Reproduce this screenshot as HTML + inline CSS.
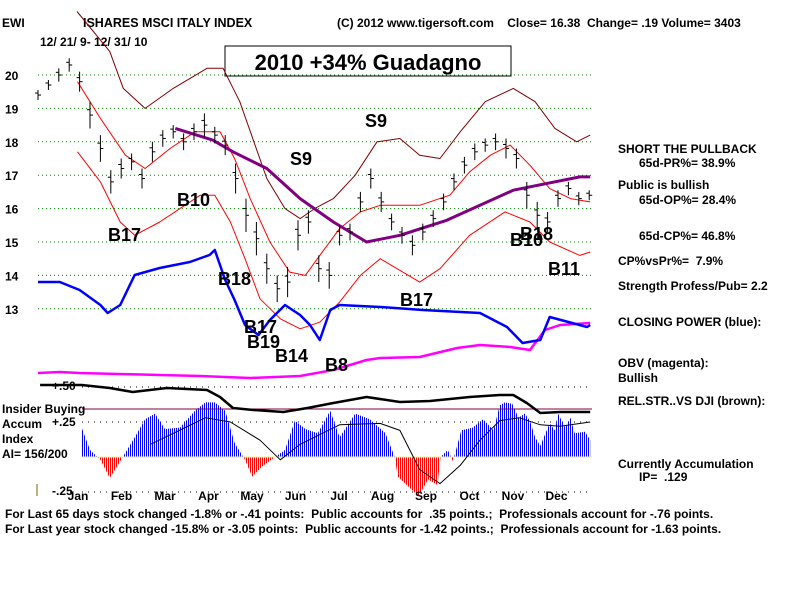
<!DOCTYPE html>
<html><head><meta charset="utf-8">
<style>
body{margin:0;background:#fff;}
svg{display:block;font-family:"Liberation Sans",sans-serif;}
text{white-space:pre;}
.t{font-size:12px;font-weight:bold;fill:#000;}
.sig{font-size:18px;font-weight:bold;fill:#000;}
</style></head><body>
<svg id="c" width="800" height="600" viewBox="0 0 800 600">
<defs>
<pattern id="blueStripe" width="2" height="4" patternUnits="userSpaceOnUse"><rect width="1" height="4" fill="#0000ff"/></pattern>
<pattern id="redStripe" width="2" height="4" patternUnits="userSpaceOnUse"><rect width="1" height="4" fill="#ff0000"/></pattern>
<clipPath id="aiPos"><rect x="0" y="0" width="800" height="457"/></clipPath>
<clipPath id="aiNeg"><rect x="0" y="457" width="800" height="143"/></clipPath>
</defs>
<text x="2" y="27" class="t">EWI</text>
<text x="83" y="27" class="t" style="font-size:12.5px">ISHARES MSCI ITALY INDEX</text>
<text x="40" y="46" class="t">12/ 21/ 9- 12/ 31/ 10</text>
<text x="337" y="27" class="t">(C) 2012 www.tigersoft.com    Close= 16.38  Change= .19 Volume= 3403</text>
<rect x="225" y="46" width="286" height="30" fill="#fff" stroke="#000" stroke-width="1"/>
<text x="368" y="70" text-anchor="middle" style="font-size:22px;font-weight:bold">2010 +34% Guadagno</text>
<g id="grid"></g><g id="plot"></g>
<g>
<text x="618" y="153" class="t">SHORT THE PULLBACK</text>
<text x="639" y="167" class="t">65d-PR%= 38.9%</text>
<text x="618" y="189" class="t">Public is bullish</text>
<text x="639" y="204" class="t">65d-OP%= 28.4%</text>
<text x="639" y="240" class="t">65d-CP%= 46.8%</text>
<text x="618" y="265" class="t">CP%vsPr%=  7.9%</text>
<text x="618" y="290" class="t">Strength Profess/Pub= 2.2</text>
<text x="618" y="326" class="t">CLOSING POWER (blue):</text>
<text x="618" y="367" class="t">OBV (magenta):</text>
<text x="618" y="382" class="t">Bullish</text>
<text x="618" y="405" class="t">REL.STR..VS DJI (brown):</text>
<text x="618" y="468" class="t">Currently Accumulation</text>
<text x="639" y="481" class="t">IP=  .129</text>
</g>
<g id="grid2"></g>
<g>
<text x="52" y="390" class="t">+.50</text>
<text x="2" y="413" class="t">Insider Buying</text>
<text x="52" y="426" class="t">+.25</text>
<text x="2" y="428" class="t">Accum</text>
<text x="2" y="443" class="t">Index</text>
<text x="2" y="458" class="t">AI= 156/200</text>
<text x="52" y="495" class="t">-.25</text>
</g>
<text x="5" y="518" class="t">For Last 65 days stock changed -1.8% or -.41 points:  Public accounts for  .35 points.;  Professionals account for -.76 points.</text>
<text x="5" y="533" class="t">For Last year stock changed -15.8% or -3.05 points:  Public accounts for -1.42 points.;  Professionals account for -1.63 points.</text>
</svg>
<script>
const months=["Jan","Feb","Mar","Apr","May","Jun","Jul","Aug","Sep","Oct","Nov","Dec"];
const priceTicks=[20,19,18,17,16,15,14,13];
const closes=[19.4,19.7,20.0,20.3,19.8,18.8,17.8,16.8,17.2,17.4,16.9,17.7,18.1,18.3,18.0,18.3,18.5,18.2,17.9,16.9,15.8,15.1,14.2,13.6,13.8,15.2,15.6,14.2,14.0,15.2,15.3,16.2,16.9,16.2,15.6,15.2,14.9,15.3,15.7,16.2,16.8,17.3,17.7,17.9,18.0,17.8,17.5,16.4,15.8,15.6,16.3,16.6,16.3,16.4];
const ranges=[0.3,0.3,0.4,0.4,0.6,0.8,0.8,0.7,0.6,0.5,0.6,0.6,0.5,0.4,0.5,0.5,0.7,0.5,0.6,0.9,1.0,1.0,0.9,0.8,0.9,0.9,0.7,0.8,0.8,0.6,0.5,0.6,0.6,0.6,0.5,0.5,0.6,0.5,0.5,0.5,0.5,0.5,0.5,0.4,0.5,0.6,0.6,0.8,0.8,0.6,0.5,0.4,0.4,0.3];

const redUpWeeks=[3.8,6,8.4,10.3,12.7,15.1,17.5,18.9,20.4,22.3,24.2,25.7,27.1,29,31,32.9,36.7,39.6,41.5,43.5,45.4,47.3,49.2,51.2,53.1];
const redUpper=[19.8,18.7,17.6,17.2,17.8,18.3,18.3,17.5,16.3,15.0,14.1,14.0,14.6,15.4,15.9,16.1,16.1,16.4,17.1,17.6,17.9,17.3,16.6,16.3,16.2];
const redLoWeeks=[3.8,6,7.9,9.3,11.7,13.65,15.6,17,18.5,19.9,21.35,23.3,25.2,27.1,29,31,32.9,36.7,38.65,41.5,44.9,47.3,49.2,52.1,53.1];
const redLower=[17.7,16.8,15.6,15.2,15.6,16.0,16.4,16.4,15.6,14.5,13.3,12.7,12.4,12.6,13.2,14.0,14.5,13.8,14.2,15.2,15.9,15.6,15.0,14.6,14.7];
const brownWeeks=[3.75,6.9,8.2,10.3,13,16.25,17.8,19.4,22,23.75,25.2,26.6,28.4,30.5,32.6,34.8,36.7,38.65,40.6,43,45.7,47.8,49.7,51.8,53.1];
const brownUpper=[21.9,20.7,19.6,19.0,19.6,20.2,20.2,19.2,16.9,16.0,15.7,16.0,16.3,17.0,18.0,18.1,17.6,17.5,18.3,19.2,19.6,19.2,18.4,18.0,18.2];
const maWeeks=[13.2,16.8,18.75,22,25.2,28.4,31.6,34.8,39.3,45.7,52.1,53.1];
const maVals=[18.4,18.05,17.7,17.2,16.3,15.6,15.0,15.2,15.65,16.55,16.95,16.95];

const cpWeeks=[0,2.1,4,6,6.7,7.9,9.3,11.7,14.6,16.5,17,18,18.9,19.9,21.2,22.3,23.75,25.2,26.15,27.1,28.1,29,32.9,37,42.5,45.1,46.6,48.3,49.2,52.8,53.1];
const cpVals=[1.8,1.8,1.0,-0.5,-1.3,-0.5,2.5,3.2,3.8,4.5,5.0,2.0,0.0,-2.5,-3.5,-2.0,-0.5,-1.5,-2.5,-4.0,-1.0,-0.5,-0.7,-1.0,-1.3,-2.7,-4.3,-4.0,-1.7,-2.7,-2.5];
const obvWeeks=[0,2.1,4,11.7,15.6,20.4,25.2,28.4,31.6,32.9,36.7,40.3,42.5,45.4,47.3,48.75,50.2,53.1];
const obvVals=[0.2,0.3,0.2,0.0,-0.1,-0.3,-0.1,0.5,1.5,1.7,1.8,2.7,3.0,2.8,2.5,4.5,5.0,5.2];
const rsWeeks=[0.2,4.2,6.9,9.1,12.4,16.25,17.5,18.75,20.7,23.6,25.9,28.4,31.6,34.8,37.7,41.5,44.4,45.7,47,48.3,50.2,53.1];
const rsVals=[1.5,1.5,1.2,0.8,1.2,1.0,0.3,-0.8,-1.0,-1.2,-0.8,-0.3,0.3,-0.2,-0.1,0.3,0.5,0.5,-0.3,-1.3,-1.2,-1.2];

const aiWeeks=[4.2,5,6,6.9,7.9,9.3,10.3,11.25,12.2,13.65,15.1,16.1,17,18,18.9,19.9,20.6,21.5,22.8,23.75,24.7,25.7,26.9,28.1,29,30.5,31.9,33.4,34.3,34.6,35.6,36.6,37.5,38.4,38.7,39.4,39.9,40.7,41.8,42.8,43.8,44.4,44.9,45.6,46.2,46.8,47.3,47.8,48.3,48.8,49.2,49.7,50,50.7,51.2,51.6,52.6,53.1];
const aiVals=[0.21,0.05,-0.02,-0.15,-0.03,0.14,0.27,0.31,0.2,0.21,0.33,0.39,0.39,0.33,0.1,-0.02,-0.14,-0.07,0.0,0.05,0.26,0.2,0.17,0.33,0.14,0.31,0.27,0.17,0.0,-0.14,-0.21,-0.28,-0.16,-0.2,0.0,0.05,-0.03,0.19,0.21,0.27,0.19,0.37,0.39,0.38,0.28,0.31,0.26,0.14,0.08,0.17,0.24,0.19,0.31,0.21,0.28,0.17,0.18,0.12];
const aiMaWeeks=[10.8,16.1,18.5,21.35,23.3,25.2,29,32.9,34.8,36.7,38.65,40.6,42.5,44.4,46.3,48.3,50.2,53.1];
const aiMaVals=[0.09,0.28,0.25,0.12,-0.02,0.09,0.23,0.24,0.19,-0.09,-0.19,-0.06,0.12,0.26,0.28,0.23,0.22,0.25];

const signals=[["B17",108,241],["B10",177,206],["B18",218,285],["B17",244,333],["B19",247,348],["B14",275,362],["B8",325,371],["S9",290,165],["S9",365,127],["B17",400,306],["B10",510,246],["B18",520,240],["B11",548,275]];

const NS="http://www.w3.org/2000/svg";
const grid=document.getElementById('grid'),grid2=document.getElementById('grid2'),plot=document.getElementById('plot');
const X=w=>38+w*10.4, Y=p=>75+(20-p)*33.4;
const Ycp=v=>300-v*10, Yobv=v=>375-v*10, Yrs=v=>400-v*10, Yai=v=>457-v*140;
function mk(tag,attrs,parent){const e=document.createElementNS(NS,tag);for(const k in attrs)e.setAttribute(k,attrs[k]);(parent||plot).appendChild(e);return e;}
function pts(ws,vs,f){return ws.map((w,i)=>X(w).toFixed(1)+","+f(vs[i]).toFixed(1)).join(" ");}

priceTicks.forEach(p=>{
  const l=mk('line',{x1:38,x2:592,y1:Y(p),y2:Y(p),stroke:'#008000','stroke-dasharray':'1,3'},grid);
  
  
  const t=mk('text',{x:5,y:Y(p)+5,class:'t'},grid);t.textContent=p;
  
  
});
[Yai(0.5),Yai(0.25),Yai(-0.25)].forEach(y=>{const l=mk('line',{x1:82,x2:592,y1:y,y2:y,stroke:'#000','stroke-dasharray':'1,5'},grid);
  
  });
months.forEach((m,i)=>{const t=mk('text',{x:78+i*43.5,y:500,class:'t','text-anchor':'middle'},grid2);t.textContent=m;
  
  });
const tk=mk('line',{x1:37,x2:37,y1:484,y2:496,stroke:'#806000'},grid);



const aiPoly=X(aiWeeks[0]).toFixed(1)+","+Yai(0)+" "+pts(aiWeeks,aiVals,Yai)+" "+X(aiWeeks[aiWeeks.length-1]).toFixed(1)+","+Yai(0);
const aiP=mk('polygon',{points:aiPoly,fill:'url(#blueStripe)','clip-path':'url(#aiPos)'});


const aiN=mk('polygon',{points:aiPoly,fill:'url(#redStripe)','clip-path':'url(#aiNeg)'});


const z=mk('line',{x1:82,x2:592,y1:Yai(0),y2:Yai(0),stroke:'#eeee99'});


const ib=mk('line',{x1:82,x2:592,y1:409,y2:409,stroke:'#800040'});



function poly(ws,vs,f,color,w,name){const p=mk('polyline',{points:pts(ws,vs,f),fill:'none',stroke:color,'stroke-width':w,'stroke-linejoin':'round'});
  
  }
poly(aiMaWeeks,aiMaVals,Yai,'#000',1,'ai-moving-average');
poly(brownWeeks,brownUpper,Y,'#800000',1,'brown-upper-band');
poly(redUpWeeks,redUpper,Y,'#ff0000',1,'red-upper-band');
poly(redLoWeeks,redLower,Y,'#ff0000',1,'red-lower-band');
poly(maWeeks,maVals,Y,'#800080',3,'moving-average');
poly(obvWeeks,obvVals,Yobv,'#ff00ff',2.5,'obv-line');
poly(cpWeeks,cpVals,Ycp,'#0000ff',2.5,'closing-power-line');
poly(rsWeeks,rsVals,Yrs,'#000',2.5,'relative-strength-line');

closes.forEach((c,i)=>{const h=c+ranges[i]/2,l=c-ranges[i]/2,x=X(i);
  const g=mk('g',{stroke:'#000','stroke-width':1});
  
  
  mk('line',{x1:x,x2:x,y1:Y(h),y2:Y(l)},g);
  mk('line',{x1:x,x2:x+3,y1:Y(c),y2:Y(c)},g);
  mk('line',{x1:x-3,x2:x,y1:Y(c+ranges[i]*0.2),y2:Y(c+ranges[i]*0.2)},g);
});
signals.forEach(s=>{const t=mk('text',{x:s[1],y:s[2],class:'sig'});t.textContent=s[0];
  
  });
</script>
</body></html>
